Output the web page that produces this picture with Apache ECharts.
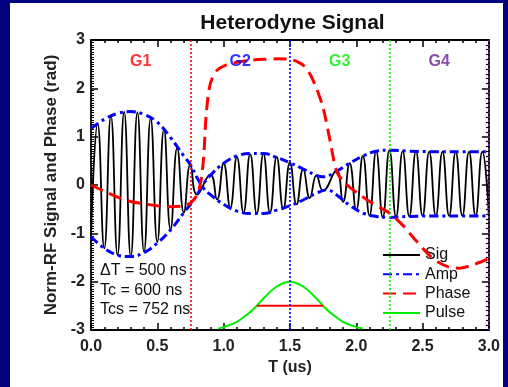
<!DOCTYPE html>
<html><head><meta charset="utf-8">
<script src="https://cdn.jsdelivr.net/npm/echarts@6/dist/echarts.min.js"></script>
<style>
html,body{margin:0;padding:0;background:#02027e;width:508px;height:387px;overflow:hidden}
#panel{position:absolute;left:10px;top:3px;width:493px;height:384px;background:#fff}
</style></head><body><div id="panel"></div>
<script>
// ---- data ----
const sigT = [0.00,0.05,0.10,0.15,0.20,0.25,0.30,0.35,0.40,0.45,0.50,0.55,0.60,0.65,0.70,0.75,0.80,
  0.90,0.95,1.00,1.05,1.10,1.15,1.20,1.25,1.30,1.35,1.40,1.45,1.50,1.55,1.60,1.65,1.70,1.75,
  1.85,1.90,1.95,2.00,2.05,2.10,2.15,2.20,2.25,2.30,2.35,2.40,2.45,2.50,2.55,2.60,2.65,2.70,2.75,2.80,2.85,2.90,2.95,3.00];
const sigV = [-1.07,1.27,-1.31,1.43,-1.45,1.51,-1.48,1.50,-1.38,1.38,-1.18,1.15,-0.92,0.77,-0.57,0.43,-0.20,
  0.22,-0.30,0.45,-0.47,0.58,-0.57,0.64,-0.59,0.65,-0.57,0.58,-0.50,0.47,-0.40,0.33,-0.27,0.20,-0.12,
  0.30,-0.35,0.45,-0.52,0.60,-0.63,0.70,-0.67,0.72,-0.66,0.70,-0.65,0.70,-0.64,0.69,-0.64,0.69,-0.64,0.69,-0.64,0.69,-0.64,0.69,-0.64];

const envAT = [0,0.1,0.2,0.3,0.4,0.5,0.6,0.7,0.75,0.8,0.85,0.9,1.0,1.1,1.2,1.3,1.4,1.5,1.6,1.7,1.78,1.85,1.95,2.05,2.15,2.25,2.4,2.6,2.8,3.0];
const envAV = [1.17,1.36,1.48,1.52,1.46,1.30,0.98,0.60,0.42,0.15,-0.07,-0.20,-0.40,-0.54,-0.59,-0.59,-0.52,-0.43,-0.31,-0.17,-0.10,-0.20,-0.42,-0.58,-0.65,-0.67,-0.65,-0.64,-0.64,-0.64];
const envBT = [0,0.1,0.2,0.3,0.4,0.5,0.6,0.7,0.75,0.8,0.85,0.9,1.0,1.1,1.2,1.3,1.4,1.5,1.6,1.7,1.75,1.85,1.95,2.05,2.15,2.25,2.4,2.6,2.8,3.0];
const envBV = [-1.07,-1.31,-1.45,-1.48,-1.40,-1.20,-0.93,-0.57,-0.40,-0.20,0.03,0.20,0.45,0.60,0.65,0.65,0.57,0.46,0.33,0.20,0.17,0.28,0.45,0.60,0.70,0.72,0.70,0.69,0.69,0.69];

const phaseT = [0,0.1,0.2,0.3,0.4,0.5,0.6,0.7,0.75,0.8,0.83,0.85,0.87,0.9,0.95,1.0,1.1,1.2,1.3,1.4,1.5,1.55,1.6,1.65,1.7,1.75,1.8,1.85,1.9,2.0,2.1,2.2,2.25,2.35,2.45,2.55,2.62,2.7,2.78,2.85,2.95,3.0];
const phaseV = [0,-0.13,-0.25,-0.34,-0.39,-0.43,-0.45,-0.43,-0.37,-0.20,0.10,0.60,1.50,2.10,2.37,2.46,2.54,2.58,2.60,2.61,2.60,2.56,2.48,2.30,2.00,1.60,0.95,0.30,0.08,-0.15,-0.34,-0.50,-0.58,-0.83,-1.15,-1.45,-1.60,-1.70,-1.72,-1.68,-1.58,-1.52];

const pulseT = [0.96,1.0,1.1,1.2,1.25,1.3,1.4,1.5,1.6,1.7,1.75,1.8,1.9,2.0,2.05];
const pulseV = [-2.97,-2.94,-2.83,-2.63,-2.5,-2.35,-2.1,-2.0,-2.1,-2.35,-2.5,-2.63,-2.83,-2.94,-2.97];

const fwhmT = [1.25,1.75];
const fwhmV = [-2.5,-2.5];

const gateBounds = [0.75,1.5,2.25,3.0];
const gateNames = ['G1','G2','G3','G4'];
const gateLabelT = [0.375,1.125,1.875,2.625];
const gateLabelY = 2.55;
const gateColors = ['#ff0000','#0000ff','#00ee00','#6a1f9a'];

const legendNames = ['Sig','Amp','Phase','Pulse'];
const notes = ['\u0394T = 500 ns','Tc = 600 ns','Tcs = 752 ns'];

const zip = (a,b) => a.map((v,i)=>[v,b[i]]);
const FONT = '"Liberation Sans", Arial, Helvetica, sans-serif';

const chart = echarts.init(document.getElementById('panel'), null, {renderer:'canvas'});

const axisCommon = {
  axisLine:{show:true, onZero:false, lineStyle:{color:'#000', width:1.8}},
  splitLine:{show:false}
};

const option = {
  animation:false,
  backgroundColor:'#ffffff',
  textStyle:{fontFamily:FONT},
  grid:{left:81, right:9, top:37, bottom:57, containLabel:false},
  xAxis:[
    Object.assign({type:'value', min:0, max:3, interval:0.5, position:'bottom',
      name:'T (us)', nameLocation:'middle', nameGap:22,
      nameTextStyle:{fontFamily:FONT, fontWeight:'bold', fontSize:16, color:'#222'},
      axisTick:{inside:true, length:7, lineStyle:{color:'#000', width:1.5}},
      minorTick:{show:true, splitNumber:5, length:3, lineStyle:{color:'#000', width:1.5}},
      axisLabel:{fontFamily:FONT, fontWeight:'bold', fontSize:16, color:'#222', margin:9,
        formatter:v=>v.toFixed(1)}}, axisCommon),
    Object.assign({type:'value', min:0, max:3, interval:0.5, position:'top',
      axisTick:{inside:true, length:7, lineStyle:{color:'#000', width:1.5}},
      minorTick:{show:true, splitNumber:5, length:3, lineStyle:{color:'#000', width:1.5}},
      axisLabel:{show:false}}, axisCommon)
  ],
  yAxis:[
    Object.assign({type:'value', min:-3, max:3, interval:1, position:'left',
      name:'Norm-RF Signal and Phase (rad)', nameLocation:'middle', nameGap:30, nameRotate:90,
      nameTextStyle:{fontFamily:FONT, fontWeight:'bold', fontSize:17, color:'#222'},
      axisTick:{inside:true, length:7, lineStyle:{color:'#000', width:1.5}},
      minorTick:{show:true, splitNumber:20, length:3, lineStyle:{color:'#000', width:1}},
      axisLabel:{fontFamily:FONT, fontWeight:'bold', fontSize:16, color:'#222', margin:6}}, axisCommon),
    Object.assign({type:'value', min:-3, max:3, interval:1, position:'right',
      axisTick:{inside:true, length:7, lineStyle:{color:'#000', width:1.5}},
      minorTick:{show:true, splitNumber:10, length:3, lineStyle:{color:'#000', width:1.2}},
      axisLabel:{show:false}}, axisCommon)
  ],
  legend:{
    orient:'vertical', left:372, top:244, padding:0, itemWidth:37, itemHeight:14, itemGap:3.3,
    itemStyle:{opacity:0},
    textStyle:{fontFamily:FONT, fontSize:16, color:'#111'},
    data:legendNames
  },
  graphic:[
    {type:'text', style:{text:'Heterodyne Signal', x:282.5, y:20, textAlign:'center', textVerticalAlign:'middle',
      font:'bold 21px '+FONT, fill:'#111'}},
    {type:'text', style:{text:notes.join('\n'), x:90, y:258, lineHeight:19.5,
      font:'16px '+FONT, fill:'#111'}}
  ],
  series:[
    {name:'Sig', type:'line', data:zip(sigT,sigV), smooth:0.5, symbol:'none',
      lineStyle:{color:'#000', width:1.8}, itemStyle:{color:'#000'}, z:2,
      markLine:{silent:true, symbol:'none', label:{show:false}, animation:false,
        data:gateBounds.map((t,i)=>({xAxis:t, lineStyle:{color:gateColors[i], type:[2,2], width:1.6}}))}},
    {name:'Amp', type:'line', data:zip(envAT,envAV), smooth:0.4, symbol:'none',
      lineStyle:{color:'#0000ff', width:3, type:[9,4,3,4]}, itemStyle:{color:'#0000ff'}, z:3},
    {name:'Amp', type:'line', data:zip(envBT,envBV), smooth:0.4, symbol:'none',
      lineStyle:{color:'#0000ff', width:3, type:[9,4,3,4]}, itemStyle:{color:'#0000ff'}, z:3},
    {name:'Phase', type:'line', data:zip(phaseT,phaseV), smooth:0.3, symbol:'none',
      lineStyle:{color:'#ff0000', width:3, type:[13,7]}, itemStyle:{color:'#ff0000'}, z:4},
    {name:'Pulse', type:'line', data:zip(pulseT,pulseV), smooth:0.4, symbol:'none',
      lineStyle:{color:'#00ee00', width:2}, itemStyle:{color:'#00ee00'}, z:3},
    {name:'FWHM', type:'line', data:zip(fwhmT,fwhmV), symbol:'none',
      lineStyle:{color:'#ff0000', width:2}, z:3},
    {name:'Gates', type:'scatter', symbolSize:0, z:5,
      data:gateNames.map((n,i)=>({name:n, value:[gateLabelT[i], gateLabelY],
        label:{show:true, position:'inside', formatter:n, color:gateColors[i],
          fontFamily:FONT, fontWeight:'bold', fontSize:16}}))}
  ]
};
chart.setOption(option);
</script></body></html>
